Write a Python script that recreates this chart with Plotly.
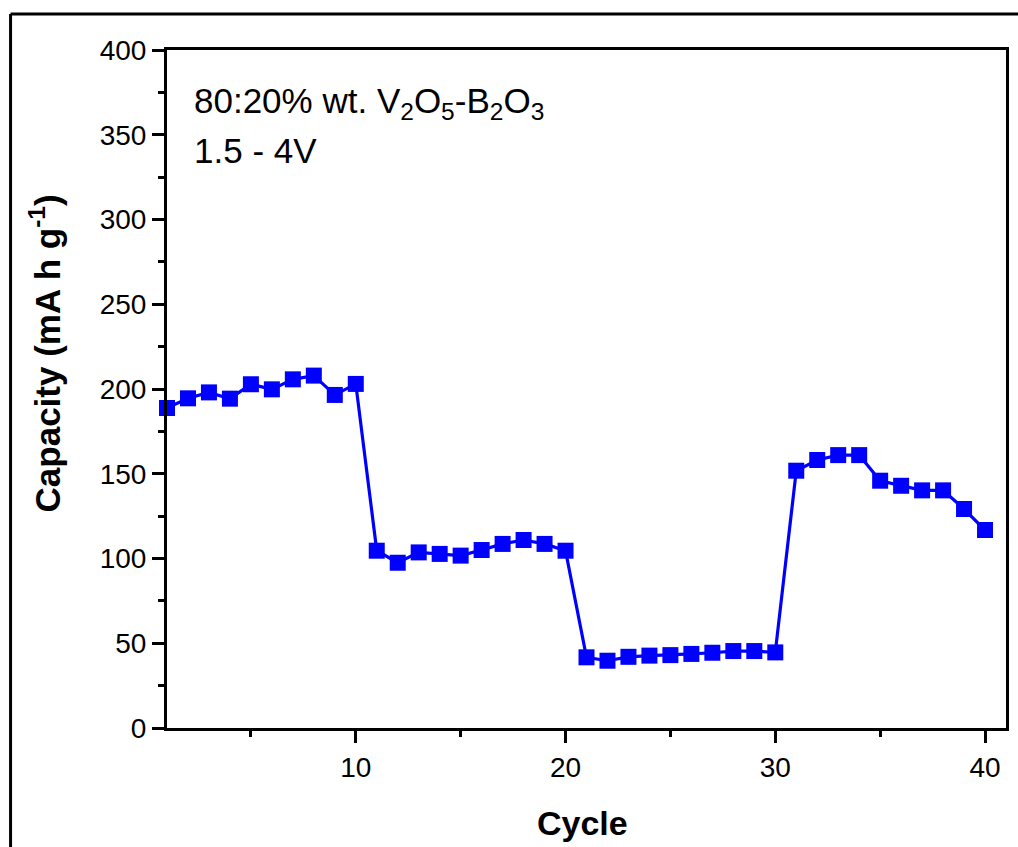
import plotly.graph_objects as go

cycles = list(range(1, 41))
capacity = [188.8, 194.5, 198.0, 194.3, 202.8, 199.8, 205.7, 207.9, 196.5, 203.0,
            104.6, 97.5, 103.6, 102.7, 101.7, 105.0, 108.6, 110.9, 108.6, 104.6,
            41.7, 39.7, 42.0, 42.7, 43.0, 43.7, 44.4, 45.4, 45.4, 44.6,
            151.8, 158.1, 161.0, 161.0, 145.9, 142.9, 140.2, 140.2, 129.2, 116.8]
x_ticks = [10, 20, 30, 40]
x_minor = [5, 15, 25, 35]
y_ticks = [0, 50, 100, 150, 200, 250, 300, 350, 400]
y_minor = [25, 75, 125, 175, 225, 275, 325, 375]

W, H = 1018, 847
L, R, T, B = 167, 1009, 50, 728
pw, ph = R - L, B - T

def px(x):
    return (x - L) / pw

def py(y):
    return (B - y) / ph

fig = go.Figure()
fig.add_trace(go.Scatter(
    x=cycles, y=capacity, mode="lines+markers",
    line=dict(color="#0000ff", width=3.2),
    marker=dict(symbol="square", size=16, color="#0000ff"),
    cliponaxis=False, showlegend=False,
))

font = "Arial, 'Liberation Sans', sans-serif"
axis_common = dict(ticks="outside", ticklen=12, tickwidth=3, tickcolor="black",
                   showline=True, linecolor="black", linewidth=3, mirror=True,
                   showgrid=False, zeroline=False,
                   tickfont=dict(size=28, family=font, color="black"))
fig.update_layout(
    width=W, height=H,
    margin=dict(l=L, r=W - R, t=T, b=H - B),
    paper_bgcolor="white", plot_bgcolor="white",
    font=dict(family=font, color="black", size=28),
    xaxis=dict(range=[1, 41], tickvals=x_ticks,
               minor=dict(tickvals=x_minor, ticks="outside", ticklen=6,
                          tickwidth=3, tickcolor="black"), **axis_common),
    yaxis=dict(range=[0, 400], tickvals=y_ticks,
               minor=dict(tickvals=y_minor, ticks="outside",
                          ticklen=6, tickwidth=3, tickcolor="black"), **axis_common),
)

ann = [
    dict(text="80:20% wt. V<sub>2</sub>O<sub>5</sub>-B<sub>2</sub>O<sub>3</sub>",
         x=px(192), y=py(103), xanchor="left", yanchor="middle", font=dict(size=35)),
    dict(text="1.5 - 4V", x=px(192), y=py(150), xanchor="left", yanchor="middle",
         font=dict(size=35)),
    dict(text="<b>Capacity (mA h g<sup>-1</sup>)</b>", x=px(45), y=py(353), textangle=-90,
         xanchor="center", yanchor="middle", font=dict(size=35)),
    dict(text="<b>Cycle</b>", x=px(584), y=py(823), xanchor="center", yanchor="middle",
         font=dict(size=34)),
]
for a in ann:
    a.update(xref="paper", yref="paper", showarrow=False)
    a["font"]["family"] = font
    a["font"]["color"] = "black"
fig.update_layout(annotations=ann)

# outer frame lines (left and top)
fig.add_shape(type="line", xref="paper", yref="paper", x0=px(10), x1=px(10),
              y0=py(14), y1=py(H + 5), line=dict(color="black", width=3))
fig.add_shape(type="line", xref="paper", yref="paper", x0=px(10), x1=px(W + 5),
              y0=py(14), y1=py(14), line=dict(color="black", width=3))

fig.write_html("out.html")
